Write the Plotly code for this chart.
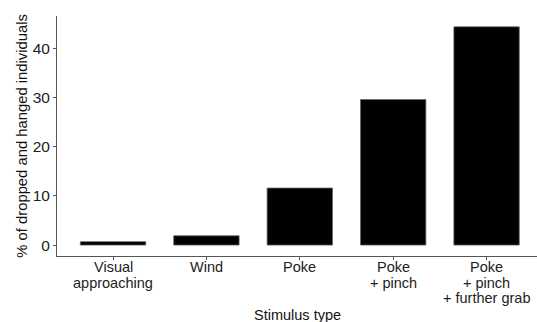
import plotly.graph_objects as go

categories = ["Visual<br>approaching", "Wind", "Poke", "Poke<br>+ pinch", "Poke<br>+ pinch<br>+ further grab"]
values = [0.7, 1.9, 11.6, 29.6, 44.4]
y_ticks = [0, 10, 20, 30, 40]
x_title = "Stimulus type"
y_title = "% of dropped and hanged individuals"

x_pos = list(range(len(categories)))

fig = go.Figure(go.Bar(
    x=x_pos, y=values, width=0.7,
    marker=dict(color="black", line=dict(color="#666666", width=0.8)),
))

# multi-line category labels with tight line spacing
annotations = []
for i, lab in zip(x_pos, categories):
    for k, line in enumerate(lab.split("<br>")):
        annotations.append(dict(
            x=i, xref="x", y=0, yref="paper", text=line, showarrow=False,
            xanchor="center", yanchor="middle", yshift=-10.7 - 15.8 * k,
            font=dict(size=14.5, color="#222222"),
        ))
annotations.append(dict(
    x=0.5, xref="paper", y=0, yref="paper", text=x_title, showarrow=False,
    xanchor="center", yanchor="middle", yshift=-59,
    font=dict(size=14.5, color="#111111"),
))
annotations.append(dict(
    x=0, xref="paper", y=0.5, yref="paper", text=y_title, showarrow=False,
    textangle=-90, xanchor="center", yanchor="middle", xshift=-35.3,
    font=dict(size=14.8, color="#111111"),
))

fig.update_layout(
    width=537, height=322,
    margin=dict(l=57.3, r=0, t=16, b=66, autoexpand=False),
    plot_bgcolor="white", paper_bgcolor="white",
    font=dict(family="Liberation Sans, Arial", size=14, color="#222222"),
    showlegend=False,
    annotations=annotations,
)
fig.update_xaxes(
    range=[-0.6, 4.54], automargin=False,
    tickmode="array", tickvals=x_pos, ticktext=[""] * len(x_pos),
    showline=True, linecolor="#555555", linewidth=1,
    ticks="outside", ticklen=3, tickcolor="#555555",
    showgrid=False, zeroline=False,
)
fig.update_yaxes(
    range=[-2.22, 46.6], automargin=False,
    tickmode="array", tickvals=y_ticks, ticktext=[str(t) for t in y_ticks],
    showline=True, linecolor="#555555", linewidth=1,
    ticks="outside", ticklen=3, tickcolor="#555555",
    tickfont=dict(size=15.5, color="#222222"),
    showgrid=False, zeroline=False,
)

fig.write_html(
    "out.html",
    config={"displayModeBar": False},
    post_script="document.body.style.margin='0';document.body.style.overflow='hidden';",
)
